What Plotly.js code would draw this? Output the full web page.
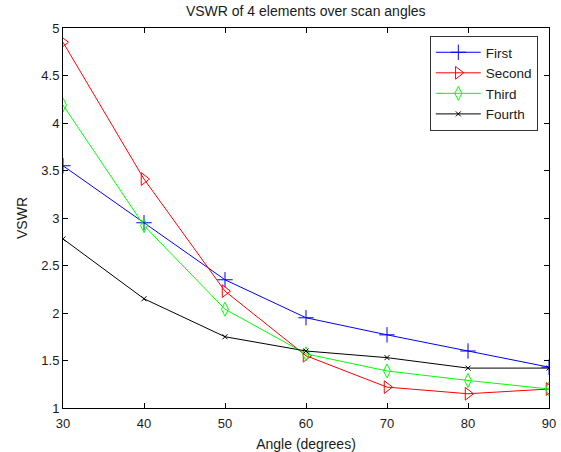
<!DOCTYPE html>
<html>
<head>
<meta charset="utf-8">
<script src="https://cdn.plot.ly/plotly-3.0.1.min.js"></script>
<style>
  html, body { margin: 0; padding: 0; background: #ffffff; }
  #chart { width: 561px; height: 452px; }
</style>
</head>
<body>
<div id="chart"></div>
<script>
// Scan angles (degrees)
const angles = [30, 40, 50, 60, 70, 80, 90];

// VSWR of each array element
const first  = [3.55, 2.95, 2.35, 1.95, 1.77, 1.60, 1.43];
const second = [4.85, 3.41, 2.23, 1.55, 1.22, 1.15, 1.20];
const third  = [4.19, 2.92, 2.04, 1.57, 1.39, 1.29, 1.20];
const fourth = [2.78, 2.15, 1.75, 1.60, 1.53, 1.42, 1.42];

const seriesNames = ['First', 'Second', 'Third', 'Fourth'];

const xTicks = [30, 40, 50, 60, 70, 80, 90];
const yTicks = [1, 1.5, 2, 2.5, 3, 3.5, 4, 4.5, 5];

const family = 'Arial, "Liberation Sans", sans-serif';
const tickFont = { family: family, size: 13, color: '#1a1a1a' };
const labelFont = { family: family, size: 14, color: '#1a1a1a' };

function trace(y, name, color, symbol, size) {
  return {
    x: angles, y: y, name: name, type: 'scatter', mode: 'lines+markers',
    line: { color: color, width: 1 },
    marker: { symbol: symbol, size: size, color: color, line: { color: color, width: 1 } }
  };
}

const data = [
  trace(first,  seriesNames[0], '#0000ff', 'cross-thin', 11),
  trace(second, seriesNames[1], '#ff0000', 'triangle-right-open', 11),
  trace(third,  seriesNames[2], '#00ff00', 'diamond-tall-open', 10),
  trace(fourth, seriesNames[3], '#000000', 'x-thin', 5)
];

const axisCommon = {
  showgrid: false, zeroline: false,
  showline: true, linecolor: '#000000', linewidth: 1,
  mirror: 'ticks', ticks: 'inside', ticklen: 5, tickcolor: '#000000',
  tickfont: tickFont
};

const layout = {
  width: 561, height: 452,
  paper_bgcolor: '#ffffff', plot_bgcolor: '#ffffff',
  margin: { l: 63, r: 12, t: 28, b: 44 },
  font: tickFont,
  title: { text: 'VSWR of 4 elements over scan angles', font: labelFont, x: 0.545, xanchor: 'center', y: 0.975, yanchor: 'middle' },
  xaxis: Object.assign({}, axisCommon, {
    range: [30, 90], tickvals: xTicks, ticktext: xTicks.map(String),
    ticklabelstandoff: 3,
    title: { text: 'Angle (degrees)', font: labelFont, standoff: 9 }
  }),
  yaxis: Object.assign({}, axisCommon, {
    range: [1, 5], tickvals: yTicks, ticktext: yTicks.map(String),
    title: { text: 'VSWR', font: labelFont, standoff: 10 }
  }),
  showlegend: true,
  legend: {
    x: 0.977, y: 0.979, xanchor: 'right', yanchor: 'top',
    bgcolor: '#ffffff', bordercolor: '#333333', borderwidth: 1,
    font: { family: family, size: 13.5, color: '#1a1a1a' },
    tracegroupgap: 0, itemwidth: 45
  }
};

Plotly.newPlot('chart', data, layout, { displayModeBar: false, staticPlot: true });
</script>
</body>
</html>
